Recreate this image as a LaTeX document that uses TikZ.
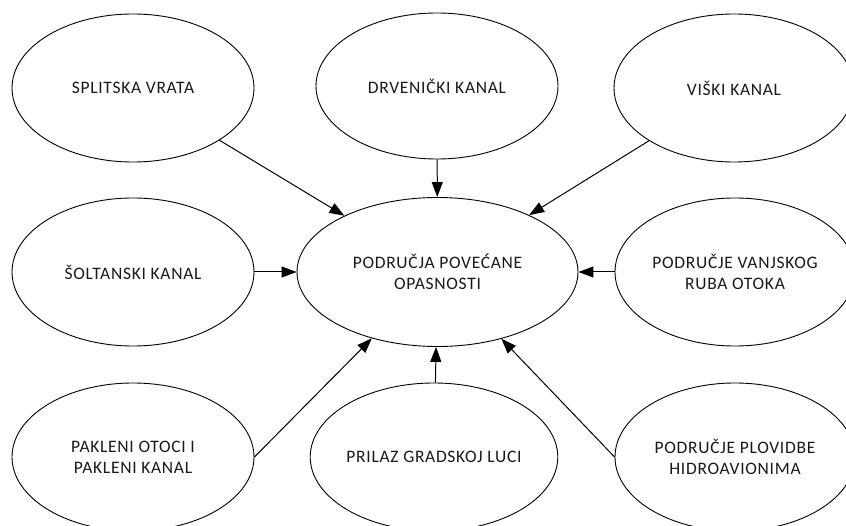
\documentclass[tikz,border=0pt]{standalone}
\usepackage{fontspec}
\setmainfont{Carlito}[LetterSpace=4]
\usetikzlibrary{arrows.meta,shapes.geometric}
\begin{document}
\begin{tikzpicture}[x=1pt,y=-1pt,
  el/.style={ellipse,draw=black,line width=0.9pt,inner sep=0pt,
    minimum width=242pt,minimum height=148pt,align=center,
    font=\fontsize{17.5pt}{21pt}\selectfont,text=black!90},
  arr/.style={line width=1pt,-{Triangle[length=15pt,width=11pt]}}]
\useasboundingbox (0,0) rectangle (846,526);
\node[el] (sp) at (133,88) {SPLITSKA VRATA};
\node[el,minimum height=146pt] (dr) at (437,86) {DRVENIČKI KANAL};
\node[el,minimum width=240pt] (vi) at (734,88) {VIŠKI KANAL};
\node[el] (so) at (133,272) {ŠOLTANSKI KANAL};
\node[el,minimum width=281pt,minimum height=149pt] (main) at (437.5,272) {PODRUČJA POVEĆANE\\OPASNOSTI};
\node[el,minimum width=240pt] (va) at (735,272) {PODRUČJE VANJSKOG\\RUBA OTOKA};
\node[el] (pa) at (133,457) {PAKLENI OTOCI I\\PAKLENI KANAL};
\node[el] (pr) at (434,457) {PRILAZ GRADSKOJ LUCI};
\node[el,minimum width=240pt] (pl) at (735,457) {PODRUČJE PLOVIDBE\\HIDROAVIONIMA};
\draw[arr] (sp) -- (main);
\draw[arr] (dr) -- (main);
\draw[arr] (vi) -- (main);
\draw[arr] (so) -- (main);
\draw[arr] (va) -- (main);
\draw[arr] (pa.east) -- (main);
\draw[arr] (pr) -- (main);
\draw[arr] (pl.west) -- (main);
\end{tikzpicture}
\end{document}
